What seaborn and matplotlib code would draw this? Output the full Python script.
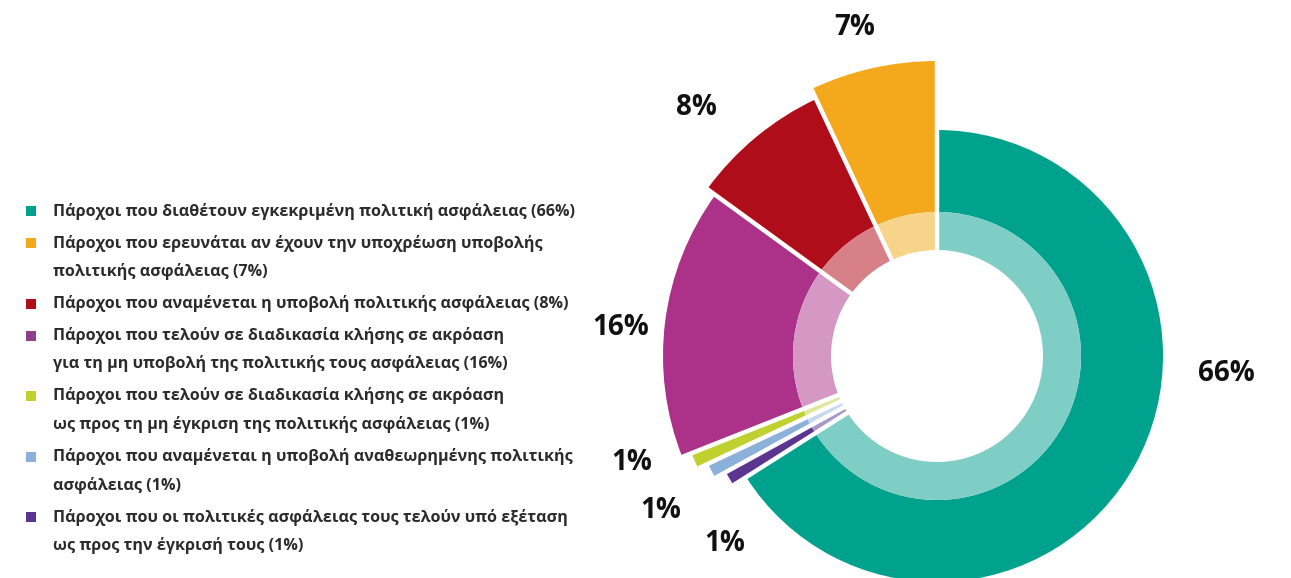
import numpy as np
import matplotlib
matplotlib.use("Agg")
import matplotlib.pyplot as plt
from matplotlib.patches import Wedge
import seaborn as sns

# data (clockwise from 12 o'clock)
labels = [
    "Πάροχοι που διαθέτουν εγκεκριμένη πολιτική ασφάλειας (66%)",
    "Πάροχοι που οι πολιτικές ασφάλειας τους τελούν υπό εξέταση\nως προς την έγκρισή τους (1%)",
    "Πάροχοι που αναμένεται η υποβολή αναθεωρημένης πολιτικής\nασφάλειας (1%)",
    "Πάροχοι που τελούν σε διαδικασία κλήσης σε ακρόαση\nως προς τη μη έγκριση της πολιτικής ασφάλειας (1%)",
    "Πάροχοι που τελούν σε διαδικασία κλήσης σε ακρόαση\nγια τη μη υποβολή της πολιτικής τους ασφάλειας (16%)",
    "Πάροχοι που αναμένεται η υποβολή πολιτικής ασφάλειας (8%)",
    "Πάροχοι που ερευνάται αν έχουν την υποχρέωση υποβολής\nπολιτικής ασφάλειας (7%)",
]
values = [66, 1, 1, 1, 16, 8, 7]
dark = ["#00A28D", "#5B358F", "#8BB0DA", "#BFD02F", "#AC3289", "#B00D1A", "#F4A81C"]
light = ["#7FCEC5", "#A998C8", "#C5D8EE", "#DDE89A", "#D597C3", "#D88088", "#F8D38A"]
legend_colors = ["#00A28D", "#5B358F", "#8BB0DA", "#BFD02F", "#8E3F8E", "#B00D1A", "#F4A81C"]
outer_r = [226, 241, 253, 264, 274, 284, 295]
# legend order as shown in the reference
legend_order = [0, 6, 5, 4, 3, 2, 1]
# percentage label placement (angle deg, radius px)
label_pos = [(-3.4, 290), (221.4, 283), (209.2, 317), (199.2, 323), (174.8, 318), (134, 346), (104, 339)]

sns.set_theme(style="white")
plt.rcParams["font.family"] = ["Open Sans", "DejaVu Sans"]

W, H = 1291, 578
fig = plt.figure(figsize=(W / 100, H / 100), dpi=100)
ax = fig.add_axes([0, 0, 1, 1])
ax.set_xlim(0, W)
ax.set_ylim(0, H)
ax.axis("off")

cx, cy = 937, H - 356
r_hole, r_mid = 106, 144

total = sum(values)
start = 90.0
bounds = []
for v, d, l, ro in zip(values, dark, light, outer_r):
    end = start - 360.0 * v / total
    ax.add_patch(Wedge((cx, cy), ro, end, start, width=ro - r_mid, facecolor=d, lw=0))
    ax.add_patch(Wedge((cx, cy), r_mid, end, start, width=r_mid - r_hole, facecolor=l, lw=0))
    bounds.append(start)
    start = end

# white separators between slices
for b in bounds:
    t = np.deg2rad(b)
    ax.plot([cx + 95 * np.cos(t), cx + 310 * np.cos(t)],
            [cy + 95 * np.sin(t), cy + 310 * np.sin(t)],
            color="white", lw=3.2, solid_capstyle="butt")

for v, (a, r) in zip(values, label_pos):
    t = np.deg2rad(a)
    ax.text(cx + r * np.cos(t), cy + r * np.sin(t), f"{v}%", ha="center", va="center",
            fontsize=20, fontweight="bold", color="#111111")

# legend
y = H - 211
for i in legend_order:
    ax.scatter([31], [y], marker="s", s=62, color=legend_colors[i], lw=0)
    lines = labels[i].split("\n")
    for j, line in enumerate(lines):
        ax.text(53, y - 28.5 * j, line, ha="left", va="center", fontsize=11.6,
                fontweight="bold", color="#2b2b2b")
    y -= 28.5 * (len(lines) - 1) + 32

fig.savefig("out.png", dpi=100)
